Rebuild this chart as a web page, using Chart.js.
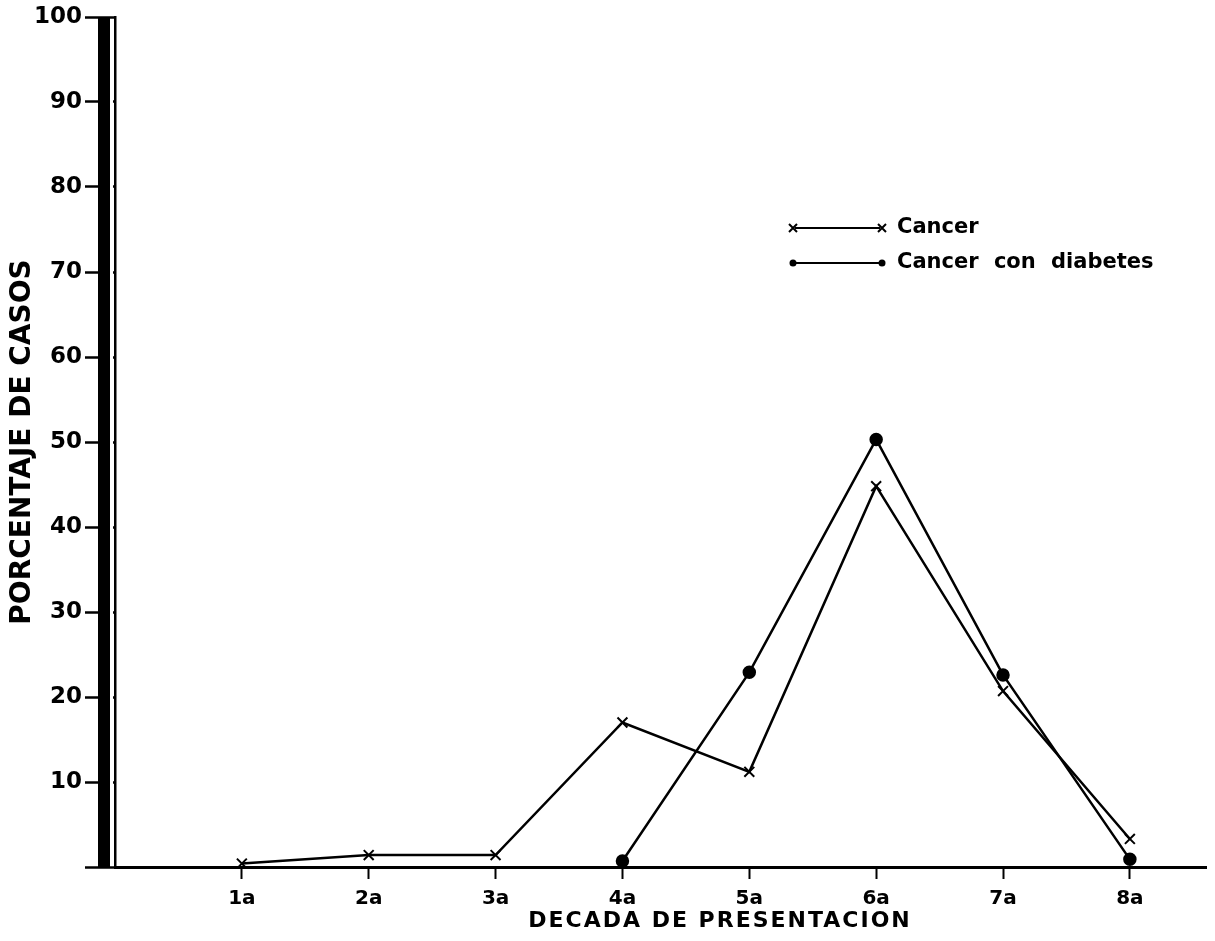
<!DOCTYPE html>
<html>
<head>
<meta charset="utf-8">
<script src="https://cdn.jsdelivr.net/npm/chart.js@4.4.1/dist/chart.umd.min.js"></script>
<style>
  html, body { margin: 0; padding: 0; background: #fff; }
  #wrap { width: 1215px; height: 941px; }
</style>
</head>
<body>
<div id="wrap"><canvas id="chart"></canvas></div>
<script>
const decades = ['1a', '2a', '3a', '4a', '5a', '6a', '7a', '8a'];
const cancer = [0.4, 1.4, 1.4, 17.0, 11.2, 44.8, 20.7, 3.3];
const cancerDiabetes = [null, null, null, 0.7, 22.9, 50.3, 22.6, 0.9];
const yTicks = [0, 10, 20, 30, 40, 50, 60, 70, 80, 90, 100];
const yTitle = 'PORCENTAJE DE CASOS';
const xTitle = 'DECADA DE PRESENTACION';

const FONT = '"DejaVu Sans", sans-serif';

function toPoints(values) {
    return values.map(function (v, i) { return { x: i + 1, y: v }; });
}

// thick left bar, x title and the hand-drawn style legend
const frame = {
    id: 'frame',
    beforeDatasetsDraw(chart) {
        const ctx = chart.ctx;
        const a = chart.chartArea;
        ctx.save();
        ctx.fillStyle = '#000';
        ctx.fillRect(a.left - 17, a.top, 12, a.bottom - a.top);
        ctx.fillStyle = '#fff';
        ctx.fillRect(a.left - 5, a.top + 4, 3, a.bottom - a.top - 6);
        ctx.restore();
    },
    afterDraw(chart) {
        const ctx = chart.ctx;
        ctx.save();
        ctx.fillStyle = '#000';
        ctx.textBaseline = 'middle';
        ctx.textAlign = 'center';
        ctx.font = 'bold 22px ' + FONT;
        ctx.letterSpacing = '2px';
        ctx.fillText(xTitle, 720, 921);
        ctx.letterSpacing = '0px';

        // legend
        const rows = [228, 263];
        chart.data.datasets.forEach(function (ds, i) {
            const y = rows[i];
            ctx.strokeStyle = '#000';
            ctx.lineWidth = 2;
            ctx.beginPath();
            ctx.moveTo(795, y);
            ctx.lineTo(880, y);
            ctx.stroke();
            [793, 882].forEach(function (px) {
                if (ds.pointStyle === 'crossRot') {
                    ctx.beginPath();
                    ctx.moveTo(px - 4, y - 4); ctx.lineTo(px + 4, y + 4);
                    ctx.moveTo(px - 4, y + 4); ctx.lineTo(px + 4, y - 4);
                    ctx.stroke();
                } else {
                    ctx.beginPath();
                    ctx.arc(px, y, 3.5, 0, Math.PI * 2);
                    ctx.fill();
                }
            });
            ctx.textAlign = 'left';
            ctx.font = 'bold 21px ' + FONT;
            ctx.wordSpacing = '8px';
            ctx.fillText(ds.label, 897, y);
            ctx.wordSpacing = '0px';
        });
        ctx.restore();
    }
};

new Chart(document.getElementById('chart'), {
    type: 'line',
    data: {
        datasets: [{
            label: 'Cancer',
            data: toPoints(cancer),
            borderColor: '#000',
            backgroundColor: '#000',
            borderWidth: 2.5,
            pointStyle: 'crossRot',
            pointRadius: 7,
            pointBorderWidth: 2,
            tension: 0
        }, {
            label: 'Cancer con diabetes',
            data: toPoints(cancerDiabetes),
            borderColor: '#000',
            backgroundColor: '#000',
            borderWidth: 2.5,
            pointStyle: 'circle',
            pointRadius: 5.5,
            tension: 0
        }]
    },
    options: {
        responsive: true,
        maintainAspectRatio: false,
        animation: false,
        layout: { padding: { top: 17, right: 3, left: 0, bottom: 0 } },
        plugins: {
            legend: { display: false },
            tooltip: { enabled: false }
        },
        scales: {
            x: {
                type: 'linear',
                min: 0,
                max: 8.6,
                afterFit: function (s) { s.height = 74; },
                afterBuildTicks: function (s) {
                    s.ticks = decades.map(function (d, i) { return { value: i + 1 }; });
                },
                ticks: {
                    color: '#000',
                    font: { family: FONT, size: 20, weight: 'bold' },
                    padding: 8,
                    maxRotation: 0,
                    callback: function (v) { return decades[v - 1] || ''; }
                },
                grid: { drawOnChartArea: false, color: '#000', tickLength: 12, tickWidth: 2 },
                border: { display: true, color: '#000', width: 3 }
            },
            y: {
                min: 0,
                max: 100,
                afterFit: function (s) { s.width = 115; },
                afterBuildTicks: function (s) {
                    s.ticks = yTicks.map(function (v) { return { value: v }; });
                },
                ticks: {
                    color: '#000',
                    font: { family: FONT, size: 23, weight: 'bold' },
                    padding: 3,
                    callback: function (v) { return v === 0 ? '' : String(v); }
                },
                grid: { drawOnChartArea: false, color: '#000', tickLength: 30, tickWidth: 2.5 },
                border: { display: true, color: '#000', width: 2.5 },
                title: {
                    display: true,
                    text: yTitle,
                    color: '#000',
                    font: { family: FONT, size: 28, weight: 'bold' },
                    padding: { top: 6, bottom: 0 }
                }
            }
        }
    },
    plugins: [frame]
});
</script>
</body>
</html>
